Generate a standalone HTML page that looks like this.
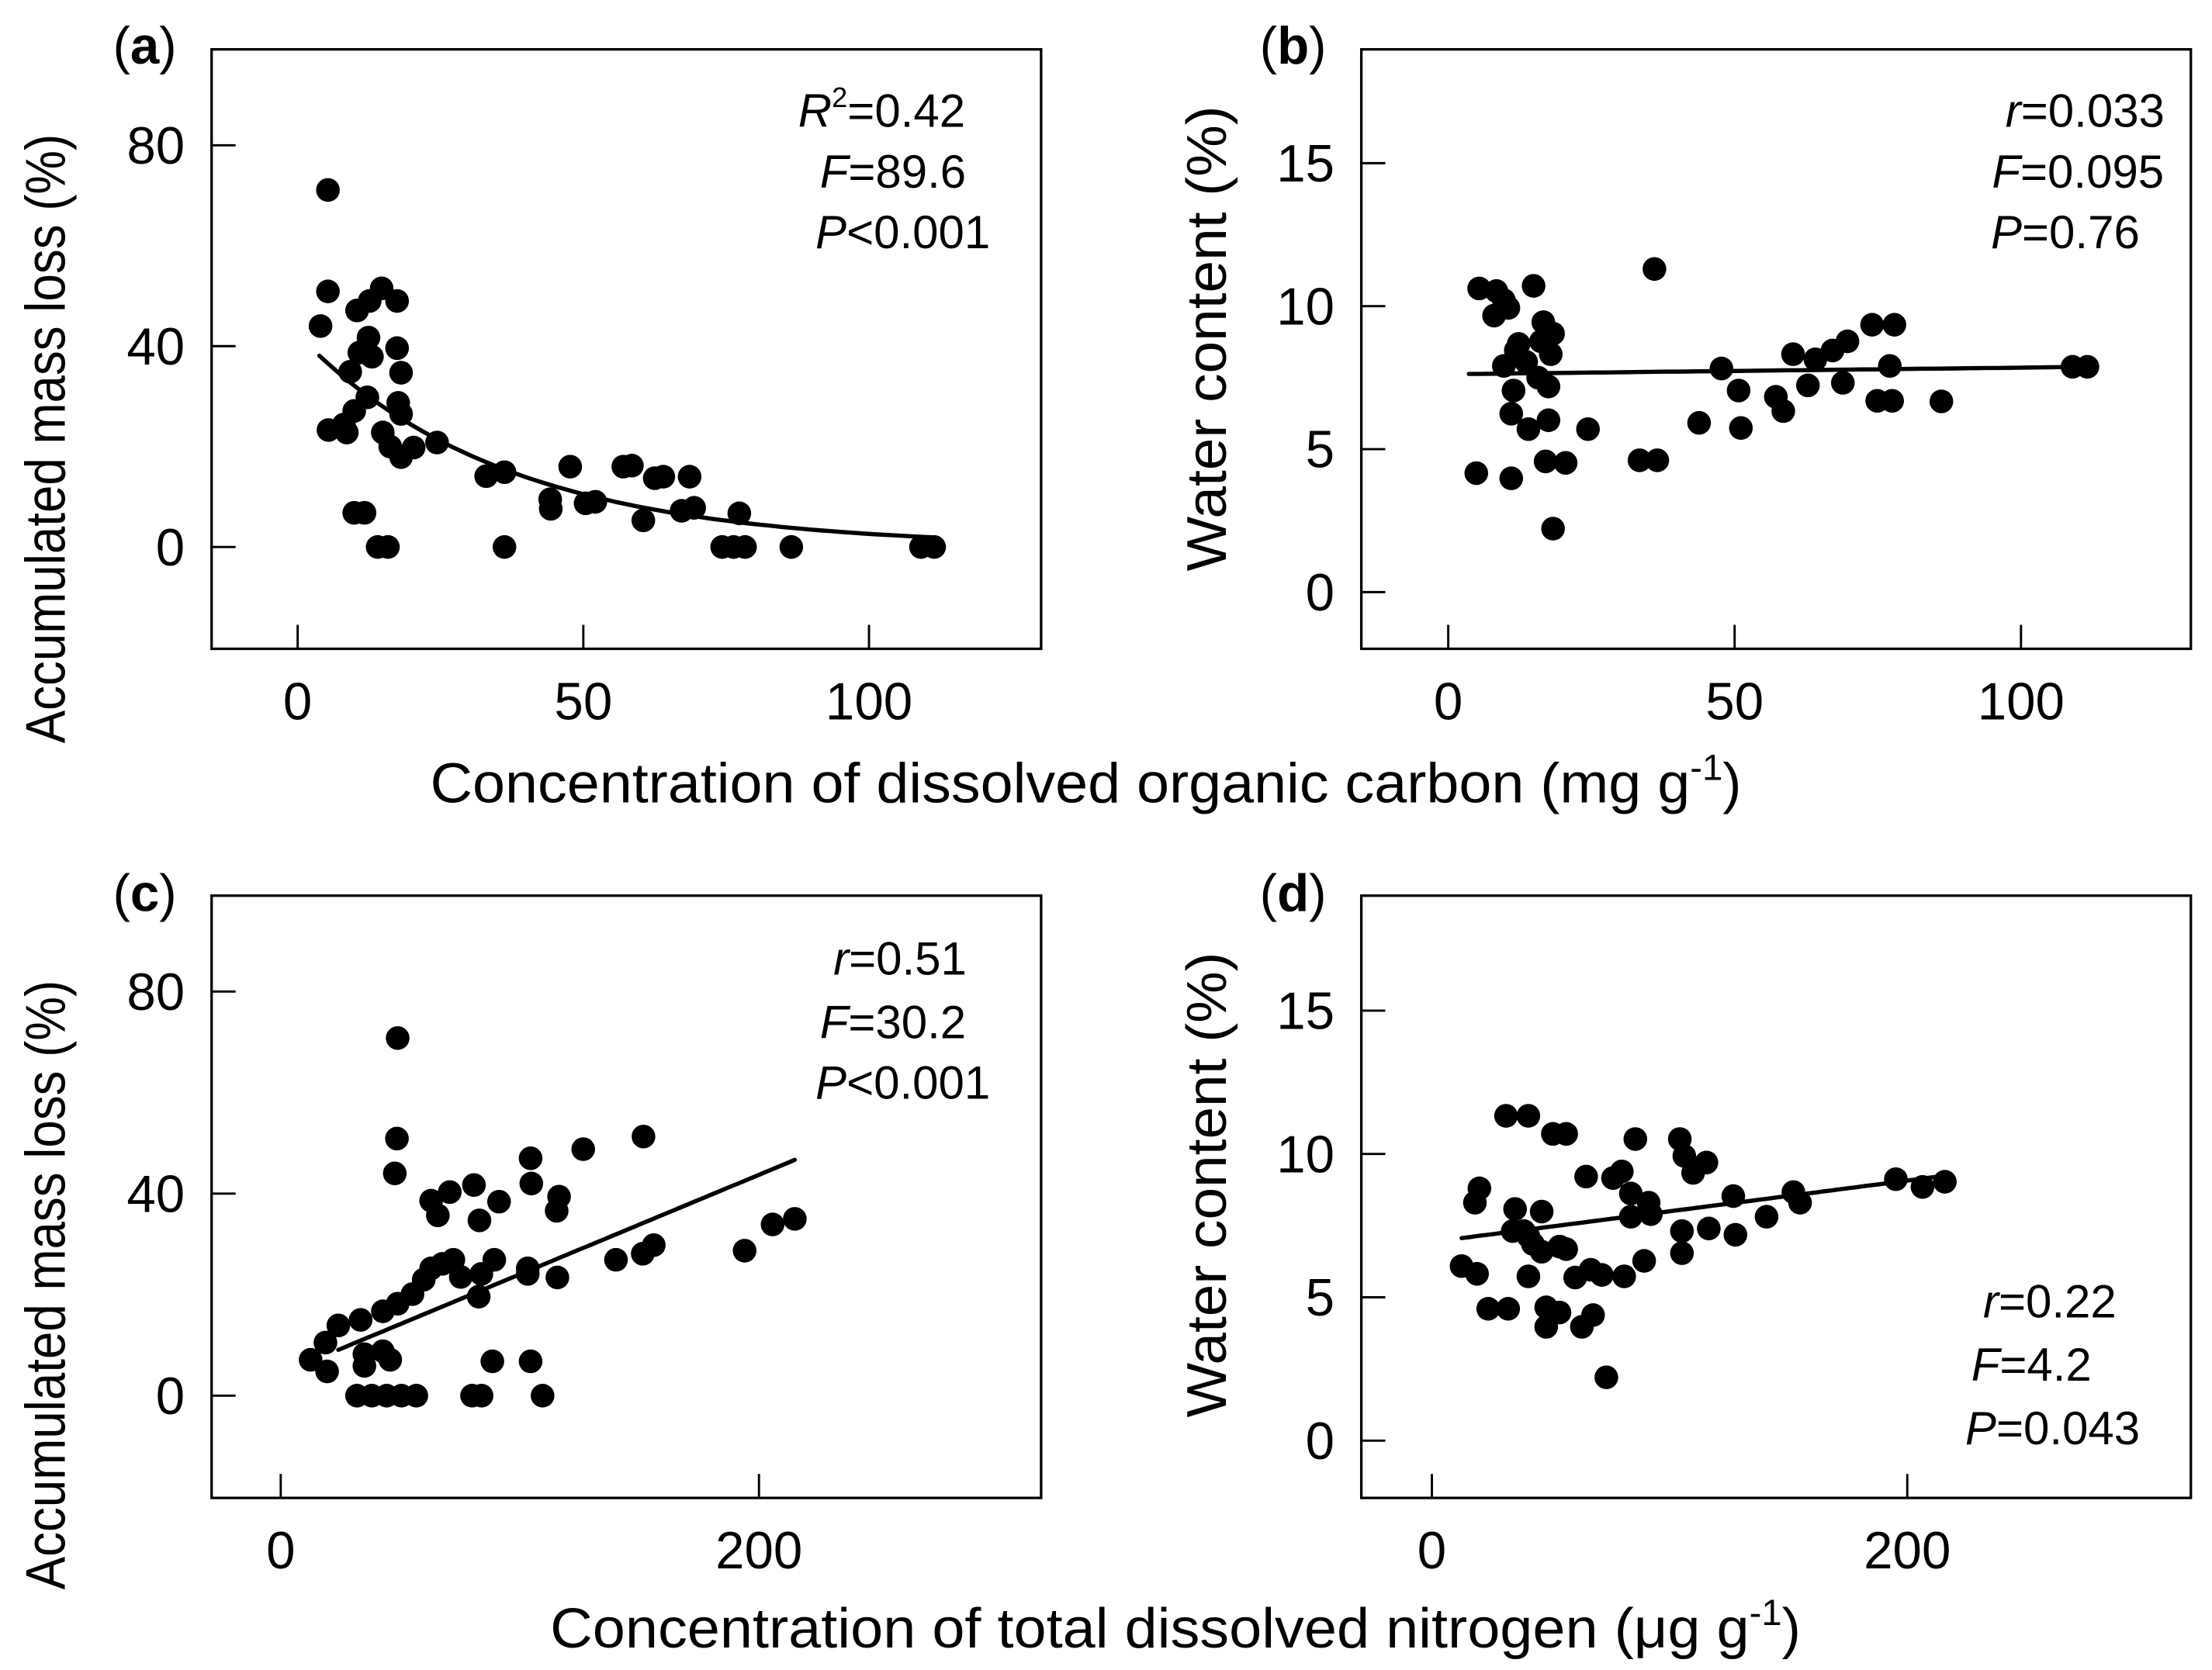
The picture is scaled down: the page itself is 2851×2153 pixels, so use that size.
<!DOCTYPE html>
<html><head><meta charset="utf-8"><style>
html,body{margin:0;padding:0;background:#fff;}
svg{display:block;font-family:"Liberation Sans",Arial,sans-serif;}
</style></head><body>
<svg id="chart" xmlns="http://www.w3.org/2000/svg" width="2851" height="2153" viewBox="0 0 1568 1184" preserveAspectRatio="none">
<rect width="1568" height="1184" fill="#fff"/>
<g id="layer"></g>
</svg>
<script>
// ---- data (a): DOC vs mass loss
const aX=[5.3,5.3,4.0,14.7,17.4,10.4,12.6,12.4,10.8,13.0,9.2,17.4,18.1,12.2,9.9,8.1,5.4,8.6,17.6,18.1,14.9,16.2,18.1,20.3,24.4,33.0,36.2,9.9,11.7,14.0,15.8,36.2,44.3,44.2,47.7,50.4,52.1,57.0,58.5,60.5,62.5,64.0,68.6,67.2,69.4,74.3,76.3,77.3,78.3,86.4,109.1,111.4];
const aY=[71.1,50.9,44.0,51.5,49.0,47.1,49.0,41.7,38.7,37.9,34.9,39.6,34.7,29.8,27.1,24.4,23.3,22.8,28.7,26.5,22.8,20.0,17.9,19.8,20.8,14.1,14.9,6.8,6.8,0,0,0,7.6,9.5,16.0,8.7,9.0,16.0,16.2,5.3,13.7,14.0,14.0,7.2,7.8,0,0,6.7,0,0,0,0];
const aFit=[42.35,0.02786,3.8,111.4];
// ---- data (b): DOC vs water content
const bX=[5.4,8.4,9.7,8.0,14.9,10.5,36.0,16.6,18.3,12.3,17.9,9.7,13.6,11.4,17.5,11.0,14.0,17.5,24.4,4.9,11.0,17.0,20.5,18.3,33.4,36.5,47.7,50.7,43.8,51.1,57.2,58.5,60.2,64.1,67.1,69.7,74.0,77.9,62.8,68.9,77.1,74.9,77.5,86.1,109.0,111.6,11.8,16.2,15.7];
const bY=[10.62,10.53,10.21,9.67,10.71,9.94,11.30,9.44,9.04,8.68,8.32,7.91,8.05,7.05,7.19,6.24,5.70,6.01,5.70,4.16,3.98,4.57,4.52,2.22,4.61,4.61,7.82,7.05,5.92,5.74,6.83,6.33,8.32,8.14,8.45,8.77,9.35,9.35,7.23,7.32,7.91,6.69,6.69,6.67,7.88,7.88,8.45,8.77,7.5];
const bFit=[7.62,0.0023,3.6,112];
// ---- data (c): TDN vs mass loss
const cX=[48.9,48.6,47.7,104.5,126.5,151.7,104.8,80.8,70.7,62.9,65.7,91.3,83.1,116.4,115.4,205.7,215.0,194.0,156.0,151.4,140.2,115.7,103.3,103.3,89.3,83.9,82.8,72.2,67.6,62.9,75.3,59.8,55.1,48.9,42.7,33.4,24.1,18.7,12.5,19.4,35.0,42.7,35.0,45.8,88.5,104.5,31.9,38.1,44.3,50.5,56.7,80.0,84.0,109.5];
const cY=[70.8,50.9,44.0,47.0,48.8,51.3,42.0,41.7,40.3,38.6,35.7,38.4,34.7,39.4,36.6,33.9,35.0,28.7,29.8,28.1,26.9,23.4,24.1,25.2,26.9,24.1,19.6,26.9,26.1,25.2,23.5,22.97,20.1,18.2,16.7,15.0,13.9,10.5,7.1,4.8,8.2,8.8,5.9,7.1,6.8,6.8,0,0,0,0,0,0,0,0];
const cFit=[4.32,0.197,24.1,215];
// ---- data (d): TDN vs water content
const dX=[31.2,40.6,50.9,56.5,85.6,104.3,106.2,115.5,109.9,64.9,79.9,76.2,20.0,18.1,35.0,46.2,83.7,91.2,83.7,92.1,126.8,152.1,154.9,195.2,206.4,215.8,34.0,40.6,53.7,46.2,56.5,12.5,19.0,40.6,60.3,66.8,71.5,80.9,89.3,105.2,105.2,116.5,127.7,140.8,23.7,32.1,48.1,53.7,48.1,67.8,63.1,73.4,38.7,42.5];
const dY=[11.33,11.33,10.70,10.70,10.52,10.52,9.93,9.70,9.34,9.21,9.39,9.16,8.80,8.30,8.08,7.99,8.62,8.30,7.81,7.90,8.53,8.67,8.30,9.12,8.85,9.03,7.31,7.13,6.77,6.59,6.68,6.09,5.82,5.73,5.69,5.96,5.78,5.73,6.27,7.31,6.54,7.40,7.18,7.81,4.60,4.60,4.65,4.47,3.97,4.38,3.97,2.21,7.31,6.86];
const dFit=[6.93,0.0107,12.5,216];
// tick labels
const aYTicks=[0,40,80];
const aXTicks=[0,50,100];
const bYTicks=[0,5,10,15];
const cXTicks=[0,200];

const NS="http://www.w3.org/2000/svg";
const layer=document.getElementById('layer');
function mk(tag,attrs,parent){const e=document.createElementNS(NS,tag);for(const k in attrs)e.setAttribute(k,attrs[k]);(parent||layer).appendChild(e);return e;}

function lin(d0,p0,d1,p1){return v=>p0+(v-d0)*(p1-p0)/(d1-d0);}
const panels=[
 {id:'a',box:[150,35,738,460],sx:lin(0,211,100,616),sy:lin(0,387.8,80,103),X:aX,Y:aY,fit:aFit,type:'exp',yt:aYTicks,xt:aXTicks},
 {id:'b',box:[965,35,1553,460],sx:lin(0,1026.6,100,1432.6),sy:lin(0,419.8,15,115.7),X:bX,Y:bY,fit:bFit,type:'lin',yt:bYTicks,xt:aXTicks},
 {id:'c',box:[150,635,738,1062],sx:lin(0,199,200,538),sy:lin(0,989.5,80,703),X:cX,Y:cY,fit:cFit,type:'lin',yt:aYTicks,xt:cXTicks},
 {id:'d',box:[965,635,1553,1062],sx:lin(0,1015,200,1352),sy:lin(0,1021.4,15,716.5),X:dX,Y:dY,fit:dFit,type:'lin',yt:bYTicks,xt:cXTicks}
];

panels.forEach(p=>{
  const g=mk('g',{});
  
  
  const [x0,y0,x1,y1]=p.box;
  const fr=mk('rect',{x:x0,y:y0,width:x1-x0,height:y1-y0,fill:'none',stroke:'#000','stroke-width':1.8},g);
  
  
  p.yt.forEach(v=>{
    const y=p.sy(v);
    const t=mk('line',{x1:x0,x2:x0+17,y1:y,y2:y,stroke:'#000','stroke-width':1.6},g);
    
    
    const l=mk('text',{x:x0-19,y:y+13,'text-anchor':'end','font-size':37},g);
    l.textContent=v;
    
    
  });
  p.xt.forEach(v=>{
    const x=p.sx(v);
    const t=mk('line',{x1:x,x2:x,y1:y1,y2:y1-17,stroke:'#000','stroke-width':1.6},g);
    
    
    const l=mk('text',{x:x,y:y1+50,'text-anchor':'middle','font-size':37},g);
    l.textContent=v;
    
    
  });
  const f=p.fit;let pts=[];
  for(let i=0;i<=60;i++){const x=f[2]+(f[3]-f[2])*i/60;const y=p.type==='exp'?f[0]*Math.exp(-f[1]*x):f[0]+f[1]*x;pts.push(p.sx(x).toFixed(1)+','+p.sy(y).toFixed(1));}
  const fl=mk('polyline',{points:pts.join(' '),fill:'none',stroke:'#000','stroke-width':3,'stroke-linecap':'round'},g);
  
  
  p.X.forEach((xv,i)=>{
    const c=mk('circle',{cx:p.sx(xv),cy:p.sy(p.Y[i]),r:8.4,fill:'#000'},g);
    
    
  });
});

function txt(s,attrs,name){const t=mk('text',attrs);t.innerHTML=s;return t;}
txt('(<tspan font-weight="bold">a</tspan>)',{x:80,y:45,'font-size':37},'panel-label-a');
txt('(<tspan font-weight="bold">b</tspan>)',{x:893,y:45,'font-size':37},'panel-label-b');
txt('(<tspan font-weight="bold">c</tspan>)',{x:80,y:646,'font-size':37},'panel-label-c');
txt('(<tspan font-weight="bold">d</tspan>)',{x:893,y:646,'font-size':37},'panel-label-d');
txt('Accumulated mass loss (%)',{transform:'translate(46,311) rotate(-90)','text-anchor':'middle','font-size':40,textLength:432,lengthAdjust:'spacingAndGlyphs'},'y-axis-title-a');
txt('Water content (%)',{transform:'translate(869,240) rotate(-90)','text-anchor':'middle','font-size':40,textLength:330,lengthAdjust:'spacingAndGlyphs'},'y-axis-title-b');
txt('Accumulated mass loss (%)',{transform:'translate(46,911) rotate(-90)','text-anchor':'middle','font-size':40,textLength:432,lengthAdjust:'spacingAndGlyphs'},'y-axis-title-c');
txt('Water content (%)',{transform:'translate(869,840) rotate(-90)','text-anchor':'middle','font-size':40,textLength:330,lengthAdjust:'spacingAndGlyphs'},'y-axis-title-d');
txt('<tspan textLength="893" lengthAdjust="spacingAndGlyphs">Concentration of dissolved organic carbon (mg g</tspan><tspan font-size="26" dy="-16">-1</tspan><tspan dy="16">)</tspan>',{x:305,y:569,'font-size':40},'x-axis-title-top');
txt('<tspan textLength="850" lengthAdjust="spacingAndGlyphs">Concentration of total dissolved nitrogen (μg g</tspan><tspan font-size="26" dy="-16">-1</tspan><tspan dy="16">)</tspan>',{x:390,y:1168,'font-size':40},'x-axis-title-bottom');
const A=(s,x,y,n)=>txt(s,{x:x,y:y,'text-anchor':'middle','font-size':33},n);
A('<tspan font-style="italic">R</tspan><tspan font-size="20" dy="-14">2</tspan><tspan dy="14">=0.42</tspan>',625,90,'stat-r2-a');
A('<tspan font-style="italic">F</tspan>=89.6',633,133,'stat-f-a');
A('<tspan font-style="italic">P</tspan>&lt;0.001',640,176,'stat-p-a');
A('<tspan font-style="italic">r</tspan>=0.033',1478,90,'stat-r-b');
A('<tspan font-style="italic">F</tspan>=0.095',1473,133,'stat-f-b');
A('<tspan font-style="italic">P</tspan>=0.76',1464,176,'stat-p-b');
A('<tspan font-style="italic">r</tspan>=0.51',638,691,'stat-r-c');
A('<tspan font-style="italic">F</tspan>=30.2',633,736,'stat-f-c');
A('<tspan font-style="italic">P</tspan>&lt;0.001',640,779,'stat-p-c');
A('<tspan font-style="italic">r</tspan>=0.22',1453,934,'stat-r-d');
A('<tspan font-style="italic">F</tspan>=4.2',1440,979,'stat-f-d');
A('<tspan font-style="italic">P</tspan>=0.043',1455,1024,'stat-p-d');
</script>
</body></html>
